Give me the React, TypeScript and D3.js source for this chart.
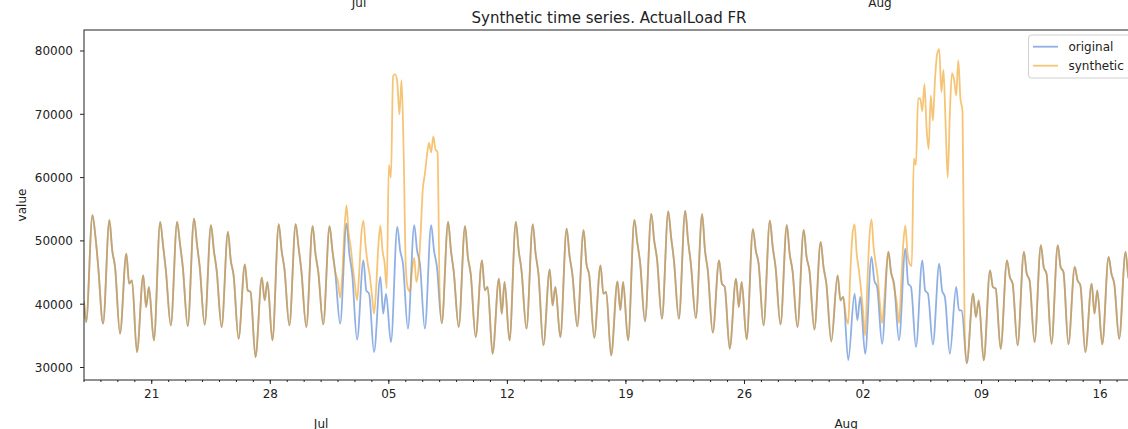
import React from "react";
import * as d3 from "d3";

// ---------------- data ----------------
const START_DATE = new Date(2021, 5, 17); // first sample: 17 Jun 2021 00:00
const END_DATE = new Date(2021, 7, 18); // right edge of the axes
const SAMPLE_HOURS = [3, 12, 16, 20]; // night low, midday peak, afternoon shoulder, evening
const FIRST_VALUE = 40500; // load at 00:00 on the first day

// original load, one row per day: [03h, 12h, 16h, 20h]
const original: number[][] = [
  [37181, 54055, 50891, 46146], // Jun 17
  [36916, 53264, 48519, 45882],
  [35336, 47991, 43245, 43773],
  [32437, 44564, 39554, 42718],
  [34281, 53000, 49310, 45355], // Jun 21
  [36653, 53000, 49573, 45882],
  [36548, 53528, 49573, 45882],
  [36759, 52473, 48519, 45355],
  [36390, 51418, 46937, 44564],
  [34544, 46304, 42191, 41927],
  [31644, 44194, 40609, 43509],
  [34281, 52631, 48519, 45618], // Jun 28
  [36653, 52631, 49046, 45355],
  [36390, 52315, 47991, 45091],
  [36812, 52315, 48519, 45091], // Jul 1
  [36917, 52739, 47993, 44829],
  [34400, 46938, 42193, 41665],
  [32436, 44301, 38500, 41665],
  [34019, 52211, 48520, 46400], // Jul 5
  [36128, 52474, 48520, 46400],
  [36128, 52474, 48520, 46000],
  [37000, 53000, 48519, 45091],
  [36390, 52315, 47464, 44828],
  [34809, 46937, 42191, 42718],
  [32172, 44036, 38500, 43509],
  [34281, 53000, 48519, 45355], // Jul 12
  [36127, 52600, 47991, 44828],
  [33490, 45500, 39800, 42718], // Jul 14
  [34800, 51946, 47727, 44828],
  [36500, 51682, 46410, 44564],
  [34700, 46146, 41664, 41927],
  [31908, 43600, 39027, 43509],
  [34281, 53300, 49837, 46673], // Jul 19
  [37300, 54260, 50100, 47200],
  [37709, 54650, 50628, 46937],
  [37709, 54741, 50100, 46410],
  [37800, 54213, 48519, 45355],
  [35500, 46937, 43245, 42718],
  [32962, 44036, 39554, 43509],
  [34450, 51860, 48519, 46410], // Jul 26
  [36654, 53200, 49046, 45882],
  [36800, 52473, 47991, 45355],
  [36390, 51730, 47464, 45355],
  [35990, 49837, 45882, 43245],
  [34100, 44564, 40609, 41136], // Jul 31
  [31170, 41665, 37447, 41138], // Aug 1
  [32171, 47466, 43773, 42720],
  [33753, 48256, 44830, 43247],
  [34281, 48783, 43248, 42720],
  [33226, 46939, 42192, 41665],
  [33600, 46412, 42192, 41138],
  [32171, 42720, 39027, 39027],
  [30650, 41665, 37974, 40600], // Aug 8
  [31117, 45355, 42718, 42455],
  [32962, 46937, 44300, 43245],
  [33490, 48255, 44828, 43773],
  [34017, 49310, 45882, 44828],
  [33753, 49310, 45882, 45091],
  [33648, 45882, 43773, 42981],
  [32435, 43245, 38500, 42191], // Aug 15
  [33648, 47464, 44828, 43245],
  [34544, 48255, 44300, 43245], // Aug 17
];

// synthetic series differs from the original only in two windows (3-hour samples)
const ANOMALY_STEP_HOURS = 3;
const julyAnomalyStart = new Date(2021, 6, 2, 0);
const julyAnomaly = [
  43500, 41000, 44500, 51500, 55600, 51200, 49000, 45800, // Jul 2
  43000, 40600, 45000, 51000, 53200, 49300, 46500, 44500, // Jul 3
  41500, 38500, 42500, 49000, 52400, 48500, 46500, 42500, // Jul 4
  62000, 60000, 76000, 76300, 75000, 70000, 75400, 64000, // Jul 5
  46000, 42500, 42000, 45500, 47300, 43500, 45500, 51000, // Jul 6
  58000, 60500, 63500, 65500, 64000, 66500, 64500, 64000, // Jul 7
  42000, // Jul 8 00h
];
const augAnomalyStart = new Date(2021, 7, 1, 0);
const augAnomaly = [
  38000, 36900, 45000, 51000, 52600, 48000, 45500, 42500, // Aug 1
  39000, 35000, 43000, 50500, 53400, 49000, 46500, 44000, // Aug 2
  40000, 37000, 40500, 45500, 48300, 45500, 44000, 42000, // Aug 3
  40000, 37000, 43000, 49500, 52400, 48000, 46400, 46000, // Aug 4
  63000, 62000, 72500, 72500, 70500, 74800, 68000, 64500, // Aug 5
  73000, 69000, 75500, 79500, 80300, 73500, 77000, 68500, // Aug 6
  60000, 70000, 76500, 75500, 73000, 78500, 72500, 70500, // Aug 7
  36000, // Aug 8 00h
];

const yTicks = [30000, 40000, 50000, 60000, 70000, 80000];
const seriesNames = ["original", "synthetic"];
const TITLE = "Synthetic time series. ActualLoad FR";

// ---------------- build series ----------------
type Pt = { t: Date; v: number };
const originalPoints: Pt[] = [
  { t: START_DATE, v: FIRST_VALUE },
  ...original.flatMap((row, d) =>
    row.map((v, k) => ({
      t: d3.timeHour.offset(d3.timeDay.offset(START_DATE, d), SAMPLE_HOURS[k]),
      v,
    }))
  ),
];
function spliceWindow(base: Pt[], start: Date, values: number[]): Pt[] {
  const pts = values.map((v, i) => ({ t: d3.timeHour.offset(start, i * ANOMALY_STEP_HOURS), v }));
  const t0 = +pts[0].t;
  const t1 = +pts[pts.length - 1].t;
  return [...base.filter((p) => +p.t < t0), ...pts, ...base.filter((p) => +p.t > t1)];
}
const syntheticPoints = spliceWindow(
  spliceWindow(originalPoints, julyAnomalyStart, julyAnomaly),
  augAnomalyStart,
  augAnomaly
);

// ---------------- layout ----------------
const W = 1128;
const H = 429;
const M = { left: 84, top: 30, right: 1134, bottom: 380 };
const FONT = "DejaVu Sans, Verdana, sans-serif";
const BLUE = "#5a8ad8";
const BLUE_OP = 0.68;
const ORANGE = "#f09a14";
const ORANGE_OP = 0.58;
const LINE_W = 1.8;
const INK = "#222";

export default function App() {
  const x = d3.scaleTime().domain([START_DATE, END_DATE]).range([M.left, M.right]);
  const y = d3.scaleLinear().domain([28025, 83318]).range([M.bottom, M.top]);
  const line = d3
    .line<Pt>()
    .x((p) => x(p.t))
    .y((p) => y(p.v))
    .curve(d3.curveMonotoneX);

  const minorTicks = d3.timeDay.range(START_DATE, END_DATE);
  const majorTicks = d3.timeMonday.range(START_DATE, END_DATE);
  const monthTicks = d3.timeMonth.range(d3.timeDay.offset(START_DATE, 1), END_DATE);
  const fmtDay = d3.timeFormat("%d");
  const fmtMonth = d3.timeFormat("%b");

  return (
    <svg
      width={W}
      height={H}
      style={{ position: "absolute", left: 0, top: 0, background: "#fff", overflow: "hidden" }}
      fontFamily={FONT}
    >
      <defs>
        <clipPath id="plot">
          <rect x={M.left} y={M.top} width={M.right - M.left} height={M.bottom - M.top} />
        </clipPath>
      </defs>
      <rect x={0} y={0} width={W} height={H} fill="#fff" />

      {/* remnants of the upper subplot's month labels (cut by the top edge, as in the reference) */}
      <text x={359} y={6.5} fontSize={12} textAnchor="middle" fill={INK}>Jul</text>
      <text x={880} y={6.5} fontSize={12} textAnchor="middle" fill={INK}>Aug</text>

      <text x={(M.left + M.right) / 2} y={23} fontSize={15} textAnchor="middle" fill={INK}>
        {TITLE}
      </text>

      {/* series */}
      <g clipPath="url(#plot)">
        <path d={line(originalPoints) || ""} fill="none" stroke={BLUE} strokeOpacity={BLUE_OP} strokeWidth={LINE_W} strokeLinejoin="round" />
        <path d={line(syntheticPoints) || ""} fill="none" stroke={ORANGE} strokeOpacity={ORANGE_OP} strokeWidth={LINE_W} strokeLinejoin="round" />
      </g>

      {/* axes frame */}
      <rect x={M.left} y={M.top} width={M.right - M.left} height={M.bottom - M.top} fill="none" stroke={INK} strokeWidth={1} />

      {/* y axis */}
      {yTicks.map((v) => (
        <g key={v}>
          <line x1={M.left - 4} x2={M.left} y1={y(v)} y2={y(v)} stroke={INK} />
          <text x={M.left - 11} y={y(v)} dy="0.36em" fontSize={12} textAnchor="end" fill={INK}>
            {v}
          </text>
        </g>
      ))}
      <text transform={`translate(25.5,${(M.top + M.bottom) / 2}) rotate(-90)`} fontSize={12} textAnchor="middle" fill={INK}>
        value
      </text>

      {/* x axis */}
      {minorTicks.map((d) => (
        <line key={"m" + +d} x1={x(d)} x2={x(d)} y1={M.bottom} y2={M.bottom + 2} stroke={INK} />
      ))}
      {majorTicks.map((d) => (
        <g key={"M" + +d}>
          <line x1={x(d)} x2={x(d)} y1={M.bottom} y2={M.bottom + 4} stroke={INK} />
          <text x={x(d)} y={397.5} fontSize={12} textAnchor="middle" fill={INK}>
            {fmtDay(d)}
          </text>
        </g>
      ))}
      {monthTicks.map((d) => (
        <text key={"mo" + +d} x={x(d)} y={427.5} fontSize={12} textAnchor="middle" fill={INK}>
          {fmtMonth(d)}
        </text>
      ))}

      {/* legend */}
      <g>
        <rect x={1028.5} y={35} width={104} height={43} rx={3} fill="#fff" fillOpacity={0.8} stroke="#d0d0d0" />
        {seriesNames.map((name, i) => (
          <g key={name}>
            <line
              x1={1033}
              x2={1058}
              y1={46.7 + i * 19}
              y2={46.7 + i * 19}
              stroke={i === 0 ? BLUE : ORANGE}
              strokeOpacity={i === 0 ? BLUE_OP : ORANGE_OP}
              strokeWidth={LINE_W}
            />
            <text x={1068.5} y={46.7 + i * 19} dy="0.33em" fontSize={12} fill={INK}>
              {name}
            </text>
          </g>
        ))}
      </g>
    </svg>
  );
}
